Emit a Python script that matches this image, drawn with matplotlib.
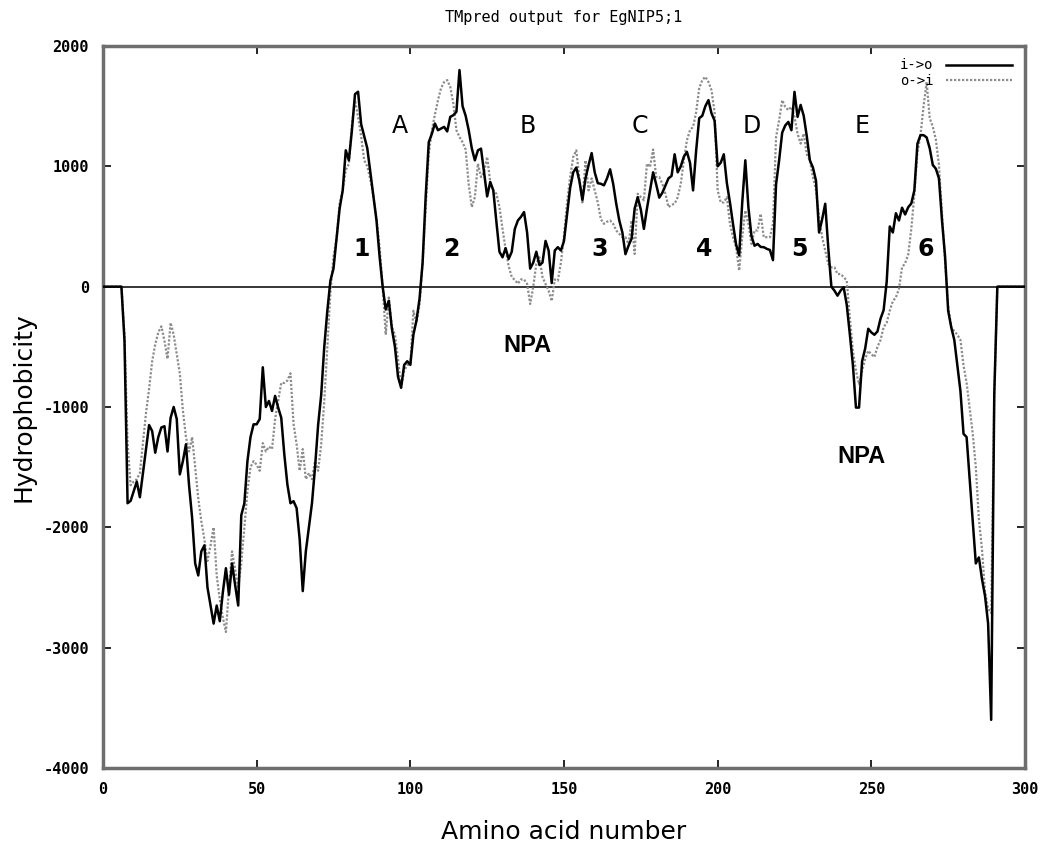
import matplotlib
matplotlib.use("Agg")
import matplotlib.pyplot as plt
import numpy as np

plt.rcParams["axes.unicode_minus"] = False

# hydrophobicity profile, one value per residue (0..300)
io_vals = [
    0, 0, 0, 0, 0, 0, 0, -450, -1800, -1780,
    -1700, -1620, -1750, -1550, -1350, -1150, -1200, -1380, -1250, -1170,
    -1160, -1370, -1090, -1000, -1100, -1560, -1450, -1310, -1650, -1920,
    -2300, -2400, -2200, -2150, -2500, -2650, -2800, -2650, -2780, -2540,
    -2340, -2560, -2300, -2480, -2650, -1900, -1800, -1450, -1250, -1144,
    -1144, -1100, -670, -1000, -950, -1033, -908, -1005, -1089, -1394,
    -1644, -1800, -1783, -1840, -2100, -2530, -2200, -2000, -1800, -1500,
    -1150, -900, -500, -200, 50, 150, 400, 650, 800, 1133,
    1050, 1300, 1600, 1620, 1350, 1250, 1150, 950, 750, 550,
    250, 0, -190, -117, -350, -500, -750, -840, -650, -620,
    -650, -400, -280, -100, 200, 750, 1200, 1270, 1356, 1300,
    1314, 1328, 1290, 1411, 1425, 1453, 1800, 1500, 1420, 1300,
    1150, 1050, 1133, 1147, 950, 750, 870, 800, 540, 290,
    244, 320, 230, 290, 480, 550, 580, 620, 450, 150,
    200, 290, 180, 200, 380, 300, 30, 300, 328, 300,
    380, 600, 820, 950, 990, 880, 720, 900, 1010, 1110,
    950, 860, 855, 842, 900, 975, 855, 689, 550, 450,
    270, 340, 400, 650, 744, 640, 480, 650, 800, 950,
    850, 740, 780, 840, 900, 920, 1100, 950, 1000, 1080,
    1120, 1030, 800, 1130, 1400, 1420, 1500, 1550, 1440, 1380,
    1000, 1030, 1100, 860, 700, 520, 350, 260, 700, 1050,
    661, 420, 340, 355, 330, 328, 314, 305, 220, 850,
    1050, 1280, 1340, 1369, 1300, 1619, 1411, 1510, 1420, 1250,
    1050, 990, 880, 450, 560, 689, 320, 0, -33, -75,
    -33, -5, -150, -394, -650, -1005, -1005, -620, -514, -350,
    -380, -400, -372, -266, -195, 40, 500, 450, 610, 550,
    656, 600, 660, 691, 800, 1188, 1259, 1259, 1240, 1150,
    1011, 980, 900, 550, 250, -200, -337, -443, -656, -869,
    -1223, -1250, -1600, -1950, -2300, -2250, -2429, -2571, -2800, -3600,
    -900, 0, 0, 0, 0, 0, 0, 0, 0, 0,
    0,
]

oi_vals = [
    0, 0, 0, 0, 0, 0, 0, -400, -1300, -1650,
    -1620, -1600, -1550, -1300, -1050, -850, -620, -480, -380, -330,
    -450, -600, -300, -400, -560, -720, -1030, -1250, -1370, -1250,
    -1500, -1760, -1950, -2100, -2280, -2150, -2000, -2400, -2600, -2750,
    -2870, -2500, -2200, -2350, -2500, -2300, -2000, -1700, -1500, -1450,
    -1480, -1530, -1300, -1370, -1330, -1350, -1100, -950, -800, -800,
    -780, -720, -1140, -1310, -1530, -1350, -1600, -1550, -1600, -1450,
    -1530, -1310, -950, -500, -50, 250, 400, 690, 800, 970,
    1020, 1350, 1550, 1410, 1250, 1050, 1000, 890, 750, 560,
    330, 0, -400, -90, -330, -400, -600, -840, -700, -650,
    -650, -200, -300, -150, 200, 650, 1100, 1300, 1430, 1550,
    1650, 1700, 1717, 1660, 1522, 1300, 1244, 1200, 1140, 850,
    661, 744, 1022, 911, 950, 1078, 870, 800, 772, 661,
    480, 310, 170, 80, 55, 25, 60, 60, 22, -144,
    0, 189, 244, 80, 22, -33, -120, 60, 50, 200,
    420, 700, 911, 1078, 1133, 900, 700, 1050, 800, 900,
    800, 700, 560, 522, 540, 550, 522, 467, 439, 411,
    411, 355, 550, 272, 772, 744, 717, 1022, 994, 1140,
    911, 911, 855, 772, 661, 680, 689, 744, 855, 1050,
    1217, 1300, 1328, 1450, 1650, 1717, 1744, 1700, 1633, 1450,
    800, 700, 700, 744, 522, 411, 328, 133, 411, 633,
    522, 355, 467, 467, 605, 411, 411, 411, 522, 1244,
    1383, 1550, 1494, 1467, 1494, 1411, 1272, 1189, 1272, 1100,
    1050, 911, 800, 578, 411, 300, 189, 161, 161, 105,
    105, 80, 50, -255, -533, -700, -811, -700, -600, -533,
    -561, -585, -500, -443, -337, -300, -200, -120, -89, -18,
    160, 195, 266, 479, 762, 1117, 1259, 1500, 1700, 1400,
    1330, 1223, 1011, 600, 200, -160, -337, -370, -400, -443,
    -656, -798, -1011, -1223, -1500, -1932, -2181, -2535, -2677, -2713,
    -900, 0, 0, 0, 0, 0, 0, 0, 0, 0,
    0,
]

loop_labels = ["A", "B", "C", "D", "E"]
loop_x = [96.6, 138.3, 174.7, 211.2, 247.0]
helix_labels = ["1", "2", "3", "4", "5", "6"]
helix_x = [84.0, 113.2, 161.7, 195.6, 226.5, 267.8]
npa_x = [138.0, 246.7]
npa_y = [-492, -1408]

residues = np.arange(len(io_vals))

fig = plt.figure(figsize=(10.53, 8.47), dpi=100)
ax = fig.add_axes([0.0978, 0.0933, 0.8756, 0.8524])

ax.axhline(0, color="black", lw=1.1, zorder=1)
ax.plot(residues, oi_vals, color="#8c8c8c", lw=1.6, ls=(0, (1, 0.8)), label="o->i", zorder=2)
ax.plot(residues, io_vals, color="black", lw=1.8, label="i->o", zorder=3)

ax.set_xlim(0, 300)
ax.set_ylim(-4000, 2000)
ax.set_xticks(np.arange(0, 301, 50))
ax.set_yticks(np.arange(-4000, 2001, 1000))
ax.tick_params(direction="in", length=6, width=1.2, top=True, right=True, pad=10)
for lab in ax.get_xticklabels() + ax.get_yticklabels():
    lab.set_family("DejaVu Sans Mono")
    lab.set_fontweight("bold")
    lab.set_fontsize(11)
for sp in ax.spines.values():
    sp.set_linewidth(2.5)
    sp.set_color("#6e6e6e")

ax.set_xlabel("Amino acid number", fontsize=18, labelpad=17)
ax.set_ylabel("Hydrophobicity", fontsize=18, labelpad=6)
ax.set_title("TMpred output for EgNIP5;1", family="DejaVu Sans Mono", fontsize=11, pad=17)

for lab, xv in zip(loop_labels, loop_x):
    ax.text(xv, 1333, lab, fontsize=17, ha="center", va="center")
for lab, xv in zip(helix_labels, helix_x):
    ax.text(xv, 317, lab, fontsize=17, fontweight="bold", ha="center", va="center")
for xv, yv in zip(npa_x, npa_y):
    ax.text(xv, yv, "NPA", family="Liberation Sans", fontsize=17, fontweight="bold",
            ha="center", va="center")

handles, labels = ax.get_legend_handles_labels()
ax.legend(handles[::-1], labels[::-1], loc="upper right", frameon=False, markerfirst=False,
          handlelength=4.8, labelspacing=0.1, borderaxespad=0.5, handletextpad=0.9,
          prop={"family": "DejaVu Sans Mono", "size": 10})

fig.savefig("out.png", dpi=100)
